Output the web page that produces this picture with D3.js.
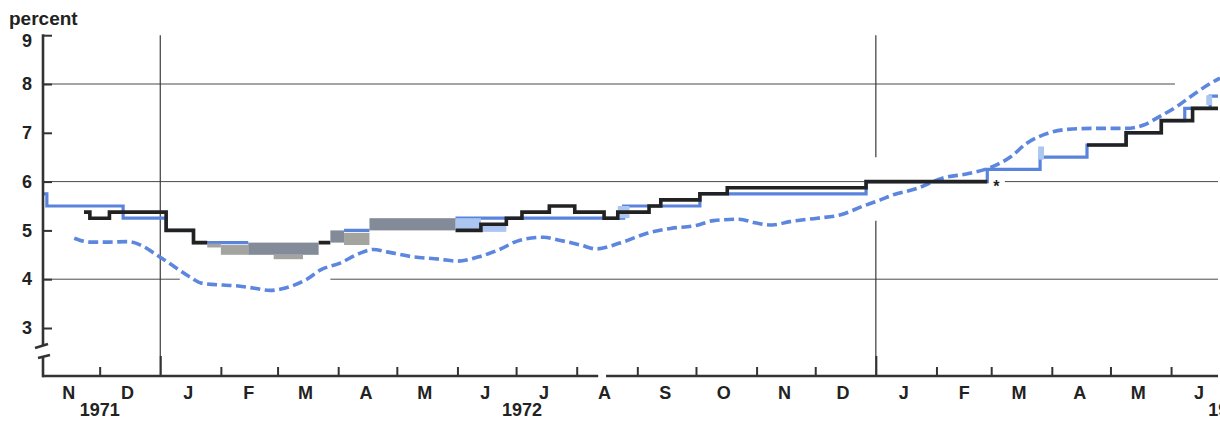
<!DOCTYPE html>
<html>
<head>
<meta charset="utf-8">
<script src="https://cdn.jsdelivr.net/npm/d3@7"></script>
<style>
  body { margin: 0; background: #fff; }
  svg { display: block; font-family: "Liberation Sans", Arial, Helvetica, sans-serif; font-weight: bold; }
</style>
</head>
<body>
<div id="chart"></div>
<script>
// y ticks and month labels
const yTicks = [3, 4, 5, 6, 7, 8, 9];
const gridValues = [4, 6, 8];
const monthLabels = ['N', 'D', 'J', 'F', 'M', 'A', 'M', 'J', 'J', 'A', 'S', 'O', 'N', 'D', 'J', 'F', 'M', 'A', 'M', 'J'];
const yearLabels = ['1971', '1972', '1973'];

// solid black step line, [date the rate took effect, percent]; null = line stops
const floatingPrime = [
  ['1971-11-23', 5.375], ['1971-11-26', 5.25], ['1971-12-06', 5.375],
  ['1972-01-04', 5.0], ['1972-01-18', 4.75], ['1972-01-25', null],
  ['1972-03-22', 4.75], ['1972-03-28', null],
  ['1972-05-31', 5.0], ['1972-06-13', 5.125], ['1972-06-26', 5.25],
  ['1972-07-04', 5.375], ['1972-07-18', 5.5], ['1972-07-31', 5.375],
  ['1972-08-15', 5.25], ['1972-08-22', 5.375], ['1972-09-07', 5.5],
  ['1972-09-13', 5.625], ['1972-10-03', 5.75], ['1972-10-17', 5.875],
  ['1972-12-27', 6.0], ['1973-02-27', null],
  ['1973-04-19', 6.75], ['1973-05-09', 7.0], ['1973-05-27', 7.25],
  ['1973-06-12', 7.5], ['1973-06-25', null]
];

// solid blue step line
const primeRate = [
  ['1971-11-02', 5.75], ['1971-11-04', 5.5], ['1971-12-13', 5.25],
  ['1972-01-04', 5.0], ['1972-01-18', 4.75], ['1972-02-15', null],
  ['1972-04-04', 5.0], ['1972-04-17', null],
  ['1972-05-31', 5.25], ['1972-08-25', 5.5], ['1972-10-03', 5.75],
  ['1972-12-27', 6.0], ['1973-02-27', 6.25], ['1973-03-26', 6.5],
  ['1973-04-19', 6.75], ['1973-05-09', 7.0], ['1973-05-27', 7.25],
  ['1973-06-08', 7.5], ['1973-06-21', 7.75], ['1973-06-25', null]
];

// dashed blue curve
const paperRate = [
  ['1971-11-18', 4.84], ['1971-11-26', 4.76], ['1971-12-06', 4.76], ['1971-12-15', 4.77],
  ['1971-12-22', 4.70], ['1971-12-30', 4.50], ['1972-01-07', 4.29], ['1972-01-16', 4.05],
  ['1972-01-22', 3.92], ['1972-02-02', 3.88], ['1972-02-10', 3.86], ['1972-02-19', 3.81],
  ['1972-02-26', 3.77], ['1972-03-05', 3.82], ['1972-03-16', 4.00], ['1972-03-23', 4.19],
  ['1972-04-02', 4.33], ['1972-04-12', 4.53], ['1972-04-19', 4.61], ['1972-04-26', 4.56],
  ['1972-05-09', 4.46], ['1972-05-23', 4.41], ['1972-06-01', 4.37], ['1972-06-12', 4.46],
  ['1972-06-22', 4.60], ['1972-07-03', 4.80], ['1972-07-15', 4.86], ['1972-07-23', 4.80],
  ['1972-08-03', 4.70], ['1972-08-11', 4.62], ['1972-08-23', 4.74], ['1972-09-06', 4.94],
  ['1972-09-18', 5.04], ['1972-10-01', 5.10], ['1972-10-10', 5.20], ['1972-10-23', 5.23],
  ['1972-11-01', 5.15], ['1972-11-09', 5.11], ['1972-11-18', 5.18], ['1972-12-02', 5.25],
  ['1972-12-14', 5.32], ['1972-12-25', 5.49], ['1973-01-03', 5.62], ['1973-01-10', 5.73],
  ['1973-01-22', 5.86], ['1973-02-04', 6.07], ['1973-02-18', 6.17], ['1973-03-02', 6.31],
  ['1973-03-11', 6.51], ['1973-03-19', 6.78], ['1973-03-30', 6.99], ['1973-04-09', 7.07],
  ['1973-04-22', 7.09], ['1973-05-09', 7.09], ['1973-05-18', 7.16], ['1973-05-26', 7.33],
  ['1973-06-04', 7.54], ['1973-06-12', 7.77], ['1973-06-21', 8.01], ['1973-06-26', 8.12]
];

// ranges: [from, to, low, high, shade]
const grayBands = [
  ['1972-01-25', '1972-02-01', 4.65, 4.73, 'light'],
  ['1972-02-01', '1972-02-15', 4.5, 4.7, 'light'],
  ['1972-02-15', '1972-03-22', 4.5, 4.75, 'dark'],
  ['1972-02-28', '1972-03-14', 4.41, 4.5, 'light'],
  ['1972-03-28', '1972-04-04', 4.75, 5.0, 'dark'],
  ['1972-04-04', '1972-04-17', 4.7, 4.95, 'light'],
  ['1972-04-17', '1972-05-31', 5.0, 5.25, 'dark']
];
const blueBands = [
  ['1972-05-31', '1972-06-13', 5.0, 5.25],
  ['1972-06-13', '1972-06-26', 4.97, 5.15],
  ['1972-08-22', '1972-08-28', 5.25, 5.5],
  ['1973-03-25', '1973-03-28', 6.45, 6.72],
  ['1973-06-19', '1973-06-22', 7.57, 7.77]
];

const width = 1220, height = 421;
const axisX = 43, baseY = 376;
const parse = d3.timeParse('%Y-%m-%d');

const svg = d3.select('#chart').append('svg')
  .attr('width', width)
  .attr('height', height);

const x = d3.scaleTime()
  .domain([parse('1971-11-01'), parse('1973-06-25')])
  .range([41, 1218]);
const y = d3.scaleLinear()
  .domain([3, 9])
  .range([328, 35.2]);

// gridlines (gaps where the curves pass)
const gridSpans = {
  4: [['1971-11-01', '1972-01-11'], ['1972-03-28', '1973-06-25']],
  6: [['1971-11-01', '1973-02-27'], ['1973-03-08', '1973-06-25']],
  8: [['1971-11-01', '1973-06-03']]
};
gridValues.forEach((v) => {
  gridSpans[v].forEach(([a, b]) => {
    svg.append('line')
      .attr('x1', Math.max(axisX, x(parse(a))))
      .attr('x2', x(parse(b)))
      .attr('y1', y(v)).attr('y2', y(v))
      .attr('stroke', '#4a4a4a')
      .attr('stroke-width', 1);
  });
});

// year dividers
const yearLines = [
  { date: '1972-01-01', spans: [[9, 3], [3, null]] },
  { date: '1973-01-01', spans: [[9, 6.5], [5.2, null]] }
];
yearLines.forEach((yl) => {
  yl.spans.forEach(([top, bottom]) => {
    svg.append('line')
      .attr('x1', x(parse(yl.date))).attr('x2', x(parse(yl.date)))
      .attr('y1', y(top))
      .attr('y2', bottom == null ? baseY : y(bottom))
      .attr('stroke', '#3a3a3a')
      .attr('stroke-width', 1.2);
  });
});

// dashed curve
const curve = d3.line()
  .curve(d3.curveMonotoneX)
  .x((d) => x(parse(d[0])))
  .y((d) => y(d[1]));
svg.append('path')
  .datum(paperRate)
  .attr('d', curve)
  .attr('fill', 'none')
  .attr('stroke', '#5d87de')
  .attr('stroke-width', 3.6)
  .attr('stroke-dasharray', '10,4.5');

// step lines
function stepPoints (rows) {
  const pts = [];
  rows.forEach(([d, v], i) => {
    if (i === rows.length - 1) return;
    if (v == null) {
      pts.push({ date: parse(d), value: null });
      return;
    }
    pts.push({ date: parse(d), value: v }, { date: parse(rows[i + 1][0]), value: v });
  });
  return pts;
}
const stepLine = d3.line()
  .defined((d) => d.value != null)
  .x((d) => x(d.date))
  .y((d) => y(d.value));

svg.append('path')
  .datum(stepPoints(primeRate))
  .attr('d', stepLine)
  .attr('fill', 'none')
  .attr('stroke', '#5a83dc')
  .attr('stroke-width', 3.2);

svg.selectAll('.blue-band')
  .data(blueBands)
  .enter()
  .append('rect')
  .classed('blue-band', true)
  .attr('x', (d) => x(parse(d[0])))
  .attr('width', (d) => x(parse(d[1])) - x(parse(d[0])))
  .attr('y', (d) => y(d[3]))
  .attr('height', (d) => y(d[2]) - y(d[3]))
  .attr('fill', '#abc6f0');

svg.append('path')
  .datum(stepPoints(floatingPrime))
  .attr('d', stepLine)
  .attr('fill', 'none')
  .attr('stroke', '#222')
  .attr('stroke-width', 3.6);

svg.selectAll('.gray-band')
  .data(grayBands)
  .enter()
  .append('rect')
  .classed('gray-band', true)
  .attr('x', (d) => x(parse(d[0])))
  .attr('width', (d) => x(parse(d[1])) - x(parse(d[0])))
  .attr('y', (d) => y(d[3]))
  .attr('height', (d) => y(d[2]) - y(d[3]))
  .attr('fill', (d) => d[4] === 'dark' ? '#838a98' : '#a3a3a0');

// asterisk after the black line
svg.append('text')
  .attr('x', x(parse('1973-02-27')) + 9)
  .attr('y', 192)
  .attr('text-anchor', 'middle')
  .style('font-size', '16px')
  .attr('fill', '#222')
  .text('*');

// y axis
const yAxis = d3.axisLeft(y)
  .tickValues(yTicks)
  .tickSizeInner(-9)
  .tickSizeOuter(0)
  .tickPadding(11)
  .tickFormat(d3.format('d'));
const gy = svg.append('g')
  .attr('transform', `translate(${axisX},0)`)
  .call(yAxis);
gy.select('.domain').remove();
gy.selectAll('.tick line').attr('stroke', '#333').attr('stroke-width', 2);
gy.selectAll('.tick text')
  .attr('fill', '#222')
  .style('font-size', '18px')
  .style('font-family', '"Liberation Sans", Arial, sans-serif')
  .style('font-weight', 'bold')
  .attr('y', (d) => d === 9 ? 6 : 0);

// y axis line with break
const axisStyle = (sel) => sel.attr('stroke', '#333').attr('stroke-width', 2.6).attr('fill', 'none');
svg.append('line').attr('x1', axisX).attr('x2', axisX).attr('y1', y(9) - 1).attr('y2', 346).call(axisStyle);
svg.append('line').attr('x1', 35).attr('x2', 48).attr('y1', 348).attr('y2', 344).call(axisStyle);
svg.append('line').attr('x1', axisX).attr('x2', axisX).attr('y1', 356).attr('y2', baseY + 1.3).call(axisStyle);
svg.append('line').attr('x1', 38).attr('x2', 50).attr('y1', 358).attr('y2', 355).call(axisStyle);

// x axis line (small gap in August 1972)
svg.append('line').attr('x1', axisX).attr('x2', x(parse('1972-08-12'))).attr('y1', baseY).attr('y2', baseY).call(axisStyle);
svg.append('line').attr('x1', x(parse('1972-08-16'))).attr('x2', 1218).attr('y1', baseY).attr('y2', baseY).call(axisStyle);

// month ticks
const monthStarts = d3.timeMonth.range(parse('1971-12-01'), parse('1973-06-25'));
const xTicks = d3.axisBottom(x)
  .tickValues(monthStarts)
  .tickSizeInner(-9)
  .tickSizeOuter(0)
  .tickFormat('');
const gx = svg.append('g')
  .attr('transform', `translate(0,${baseY})`)
  .call(xTicks);
gx.select('.domain').remove();
gx.selectAll('.tick line')
  .attr('stroke', '#333')
  .attr('stroke-width', 2)
  .attr('y2', (d) => d.getMonth() === 0 ? -20 : -9);

// month labels at mid-month
const monthMids = monthLabels.map((m, i) => d3.timeDay.offset(d3.timeMonth.offset(parse('1971-11-01'), i), 14));
const xLabels = d3.axisBottom(x)
  .tickValues(monthMids)
  .tickSize(0)
  .tickPadding(10)
  .tickFormat((d, i) => monthLabels[i]);
const gl = svg.append('g')
  .attr('transform', `translate(0,${baseY})`)
  .call(xLabels);
gl.select('.domain').remove();
gl.selectAll('.tick text')
  .attr('fill', '#222')
  .style('font-size', '18px')
  .style('font-family', '"Liberation Sans", Arial, sans-serif')
  .style('font-weight', 'bold');

// years
const yearAt = [parse('1971-12-01'), parse('1972-07-04'), parse('1973-06-20')];
svg.selectAll('.year')
  .data(yearLabels)
  .enter()
  .append('text')
  .classed('year', true)
  .attr('x', (d, i) => x(yearAt[i]))
  .attr('y', 416)
  .attr('text-anchor', (d, i) => i === 2 ? 'start' : 'middle')
  .attr('fill', '#222')
  .style('font-size', '18px')
  .text((d) => d);

// unit label
svg.append('text')
  .attr('x', 9)
  .attr('y', 25)
  .attr('fill', '#222')
  .style('font-size', '19px')
  .text('percent');
</script>
</body>
</html>
